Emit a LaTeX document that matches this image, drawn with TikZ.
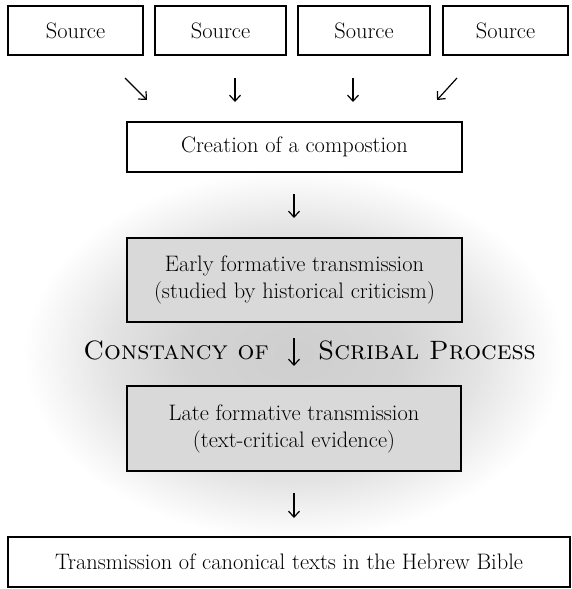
\documentclass[tikz,border=0pt]{standalone}
\usetikzlibrary{arrows.meta}
\pgfdeclareradialshading{glow}{\pgfpoint{0bp}{0bp}}{color(0bp)=(black!19); color(10bp)=(black!17); color(17bp)=(black!11); color(22bp)=(black!4); color(25bp)=(white); color(50bp)=(white)}
\begin{document}
\begin{tikzpicture}[x=1pt,y=-1pt,
  box/.style={draw, line width=1.6pt, fill=white, inner sep=0pt, font=\fontsize{22.4}{27}\selectfont, align=center},
  gbox/.style={box, fill=black!15},
  ctext/.style={inner sep=0pt, font=\fontsize{26.5}{30}\selectfont},
  arr/.style={line width=1.2pt, -{Straight Barb[length=6pt,width=11pt]}}]
\useasboundingbox (0,0) rectangle (572,589);
\shade[shading=glow] (294,355) ellipse [x radius=270, y radius=185];
% sources
\node[box, minimum width=135, minimum height=49] (s1) at (75.5,30.5) {Source};
\node[box, minimum width=131, minimum height=49] (s2) at (220.5,30.5) {Source};
\node[box, minimum width=132, minimum height=49] (s3) at (364,30.5) {Source};
\node[box, minimum width=125, minimum height=49] (s4) at (505.5,30.5) {Source};
% composition
\node[box, minimum width=335, minimum height=50] (comp) at (294.5,147) {Creation of a compostion};
\node[gbox, minimum width=335, minimum height=84] (early) at (294.5,280) {Early formative transmission\\(studied by historical criticism)};
\node[gbox, minimum width=334, minimum height=85] (late) at (294,428.5) {Late formative transmission\\(text-critical evidence)};
\node[box, minimum width=562, minimum height=50] (trans) at (289,562) {Transmission of canonical texts in the Hebrew Bible};
% constancy line
\node[ctext, anchor=base east] (cl) at (269,359) {\textsc{Constancy of}};
\node[ctext, anchor=base west] (cr) at (318,359) {\textsc{Scribal Process}};
% arrows
\coordinate (a1s) at (125,78);  \coordinate (a1e) at (147,100);
\coordinate (a2s) at (235,78);  \coordinate (a2e) at (235,102);
\coordinate (a3s) at (353,78);  \coordinate (a3e) at (353,102);
\coordinate (a4s) at (457,78);  \coordinate (a4e) at (437,100);
\coordinate (a5s) at (294,194); \coordinate (a5e) at (294,218);
\coordinate (a6s) at (294,338); \coordinate (a6e) at (294,366);
\coordinate (a7s) at (294,493); \coordinate (a7e) at (294,518);
\draw[arr] (a1s) -- (a1e);
\draw[arr] (a2s) -- (a2e);
\draw[arr] (a3s) -- (a3e);
\draw[arr] (a4s) -- (a4e);
\draw[arr] (a5s) -- (a5e);
\draw[arr] (a6s) -- (a6e);
\draw[arr] (a7s) -- (a7e);
\end{tikzpicture}
\end{document}
